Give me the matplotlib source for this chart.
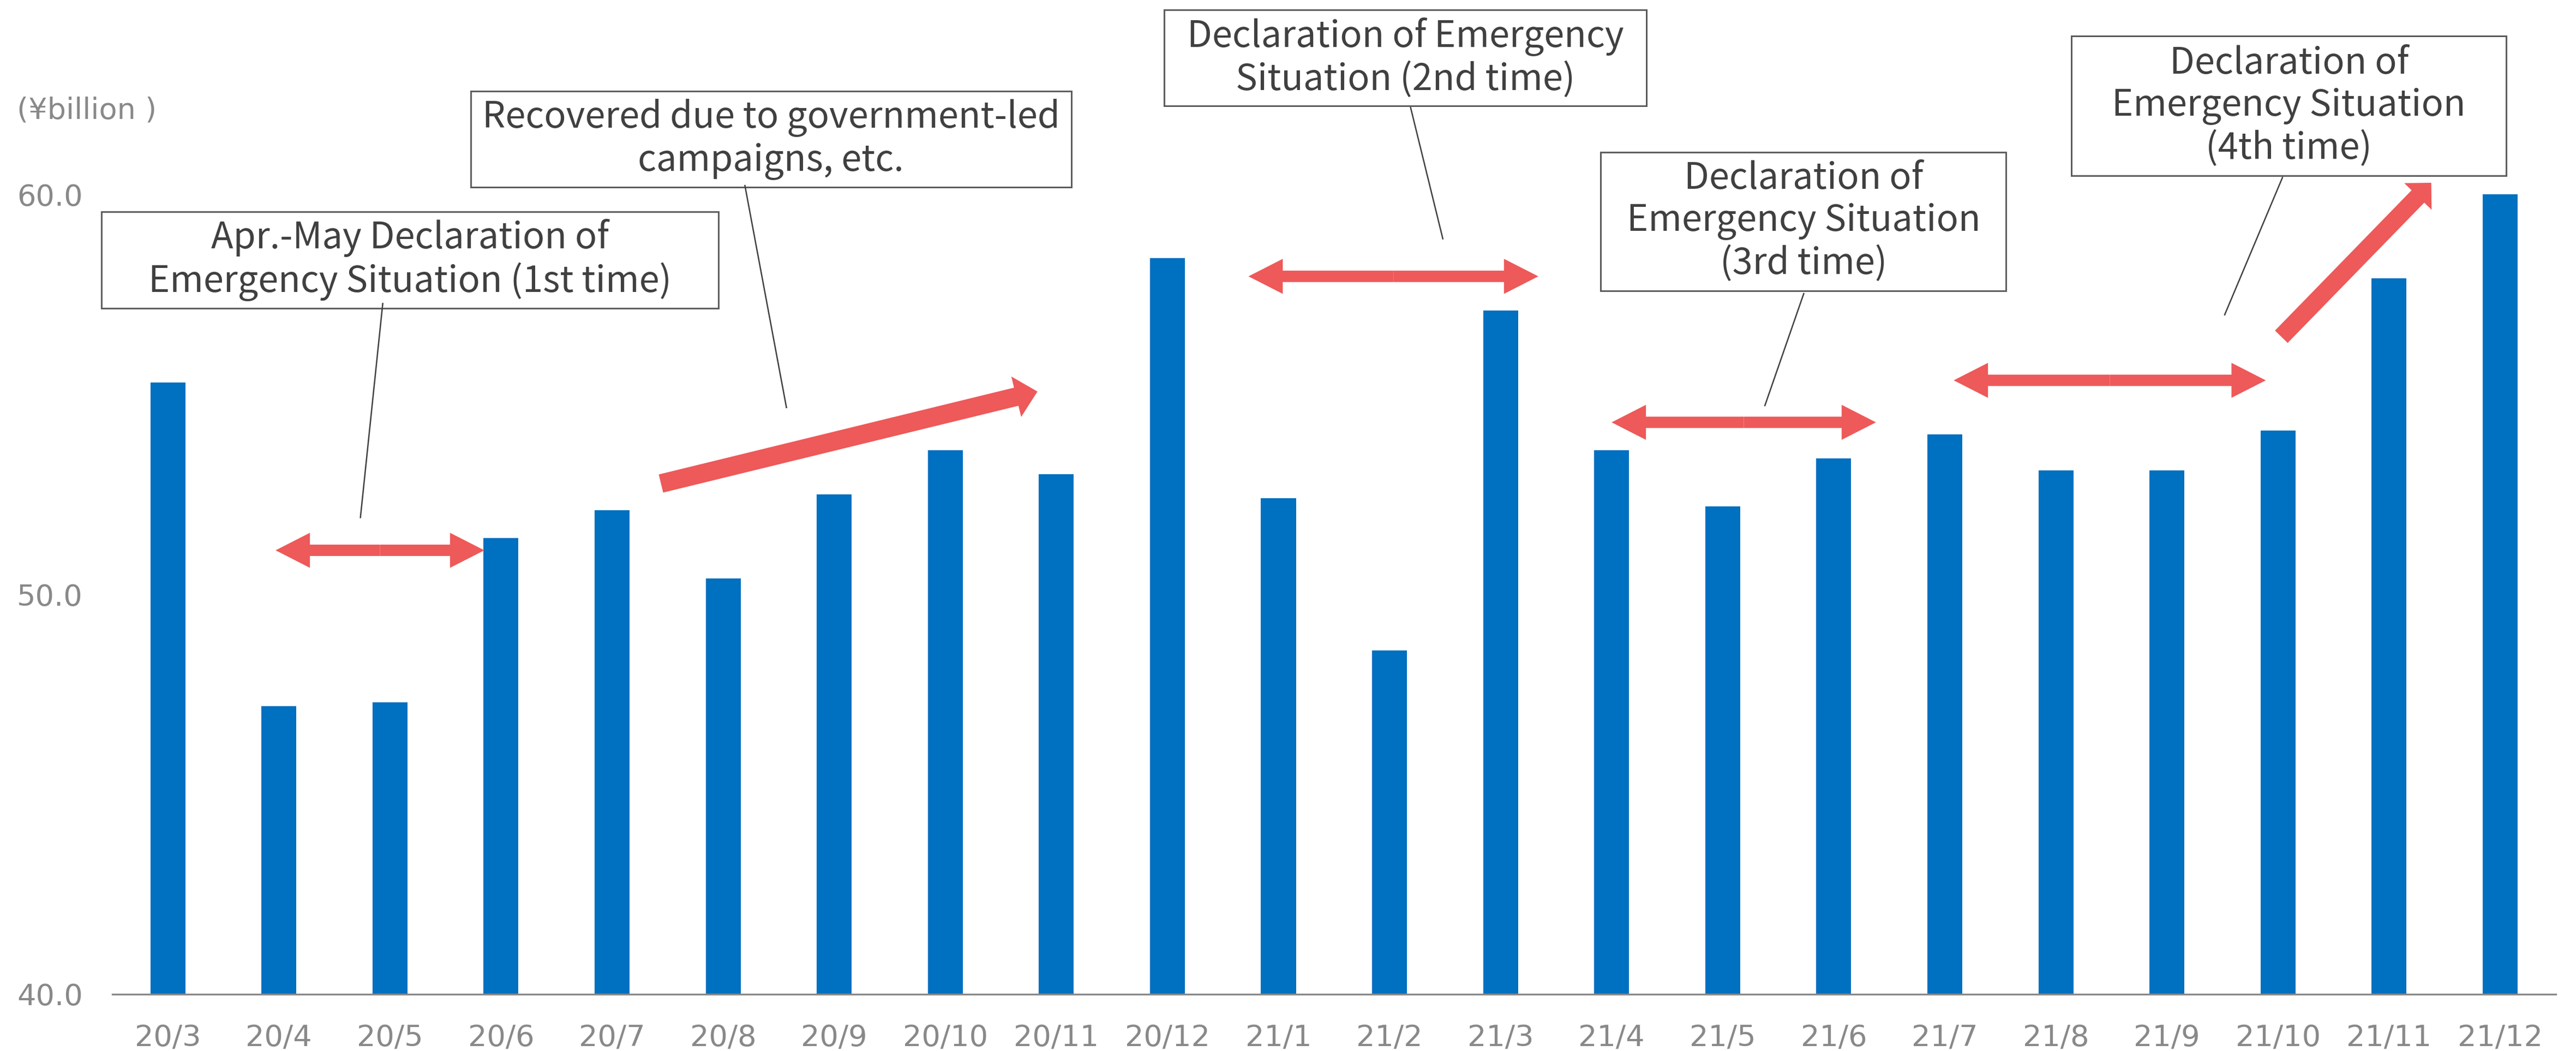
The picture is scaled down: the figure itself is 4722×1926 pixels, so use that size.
import matplotlib.pyplot as plt
from matplotlib.patches import FancyArrowPatch, Rectangle, ArrowStyle

# monthly sales, ¥billion
months = ['20/3', '20/4', '20/5', '20/6', '20/7', '20/8', '20/9', '20/10', '20/11', '20/12',
          '21/1', '21/2', '21/3', '21/4', '21/5', '21/6', '21/7', '21/8', '21/9', '21/10',
          '21/11', '21/12']
sales = [55.3, 47.2, 47.3, 51.4, 52.1, 50.4, 52.5, 53.6, 53.0, 58.4,
         52.4, 48.6, 57.1, 53.6, 52.2, 53.4, 54.0, 53.1, 53.1, 54.1,
         57.9, 60.0]
yticks = [40, 50, 60]

BAR = '#0070C0'
RED = '#EE5959'
GREY = '#898989'
DARK = '#404040'

fig = plt.figure(figsize=(4722 / 300, 1926 / 300), dpi=300)
ax = fig.add_axes([0.0436, 0.054, 0.9485, 0.946])

x = list(range(len(months)))
ax.bar(x, sales, width=0.315, color=BAR, zorder=2)

ax.set_xlim(-0.5, len(months) - 0.5)
ax.set_ylim(40, 64.86)
ax.set_xticks(x)
ax.set_xticklabels(months)
ax.set_yticks(yticks)
ax.set_yticklabels(['%.1f' % v for v in yticks])
ax.tick_params(length=0, colors=GREY, labelsize=13, pad=13)
for s in ['top', 'right', 'left']:
    ax.spines[s].set_visible(False)
ax.spines['bottom'].set_color(GREY)
ax.spines['bottom'].set_linewidth(0.8)

fig.text(31 / 4722, 1 - 203 / 1926, '(¥billion )', color=GREY, fontsize=13,
         ha='left', va='center')


def arrow(p0, p1, tail, hw, hl):
    style = ArrowStyle.Simple(head_length=hl, head_width=hw, tail_width=tail)
    a = FancyArrowPatch(p0, p1, arrowstyle=style, mutation_scale=1, color=RED,
                        lw=0, shrinkA=0, shrinkB=0, clip_on=False, zorder=4)
    ax.add_patch(a)


def double_arrow(x0, x1, y):
    mid = (x0 + x1) / 2
    arrow((mid, y), (x0, y), 5.0, 15.4, 15.1)
    arrow((mid, y), (x1, y), 5.0, 15.4, 15.1)


# periods under the emergency declarations
double_arrow(0.97, 2.85, 51.10)
double_arrow(9.73, 12.34, 57.95)
double_arrow(13.00, 15.38, 54.30)
double_arrow(16.08, 18.89, 55.35)

# recovery trends
arrow((4.44, 52.77), (7.83, 55.07), 8.2, 18.3, 9.6)
arrow((19.03, 56.44), (20.38, 60.29), 7.8, 16.8, 8.4)

# callout boxes: (x0, x1, y0, y1), text, leader line
notes = [
    ((-0.60, 4.96, 57.15, 59.56), 'Apr.-May Declaration of\nEmergency Situation (1st time)',
     ((1.935, 57.27), (1.734, 51.92))),
    ((2.726, 8.134, 60.18, 62.58), 'Recovered due to government-led\ncampaigns, etc.',
     ((5.196, 60.22), (5.570, 54.67))),
    ((8.973, 13.315, 62.21, 64.62), 'Declaration of Emergency\nSituation (2nd time)',
     ((11.19, 62.17), (11.48, 58.89))),
    ((12.903, 16.552, 57.59, 61.06), 'Declaration of\nEmergency Situation\n(3rd time)',
     ((14.73, 57.52), (14.38, 54.72))),
    ((17.141, 21.056, 60.46, 63.96), 'Declaration of\nEmergency Situation\n(4th time)',
     ((19.04, 60.42), (18.52, 56.99))),
]
for (bx0, bx1, by0, by1), txt, (l0, l1) in notes:
    ax.add_patch(Rectangle((bx0, by0), bx1 - bx0, by1 - by0, facecolor='white',
                           edgecolor='#595959', lw=0.7, clip_on=False, zorder=3))
    ax.text((bx0 + bx1) / 2, (by0 + by1) / 2, txt, ha='center', va='center',
            multialignment='center', color=DARK, fontsize=16,
            family=['Noto Sans CJK JP', 'DejaVu Sans'], linespacing=1.18, zorder=5)
    ax.plot([l0[0], l1[0]], [l0[1], l1[1]], color=DARK, lw=0.6, clip_on=False, zorder=3)

fig.savefig('out.png', dpi=300)
